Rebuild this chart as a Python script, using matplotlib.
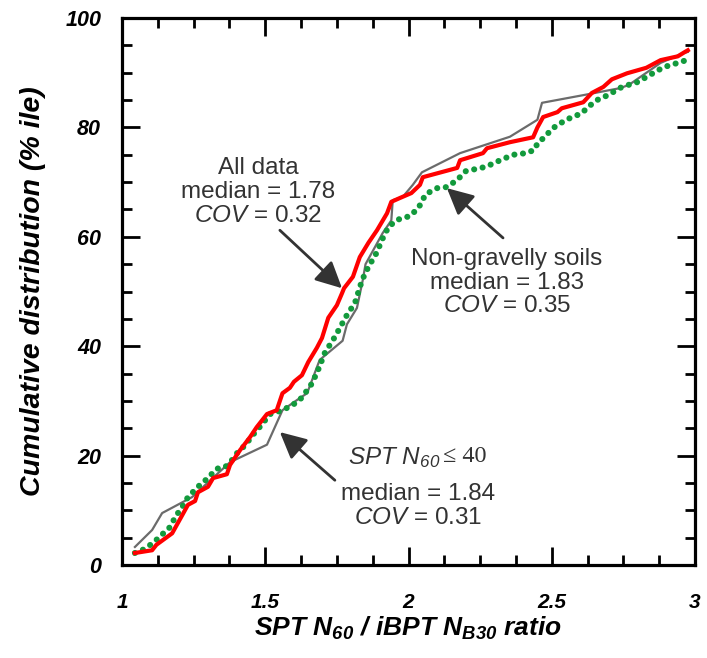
import numpy as np
import matplotlib
matplotlib.use("Agg")
import matplotlib.pyplot as plt
from matplotlib.ticker import MultipleLocator

plt.rcParams['font.family'] = ['Liberation Sans', 'DejaVu Sans']
plt.rcParams['mathtext.fontset'] = 'custom'
plt.rcParams['mathtext.rm'] = 'Liberation Sans:italic:bold'
plt.rcParams['mathtext.it'] = 'Liberation Sans:italic:bold'
plt.rcParams['mathtext.sf'] = 'Liberation Sans:italic'

#---------------- data ----------------
# all data (red)
rx = [1.045, 1.105, 1.12, 1.175, 1.21, 1.23, 1.255, 1.265, 1.30, 1.318, 1.366, 1.377, 1.412, 1.447,
      1.47, 1.506, 1.54, 1.56, 1.586, 1.60, 1.628, 1.65, 1.68, 1.698, 1.72, 1.75, 1.768, 1.775,
      1.806, 1.83, 1.86, 1.89, 1.925, 1.94, 1.97, 2.01, 2.04, 2.05, 2.17, 2.18, 2.26, 2.274,
      2.354, 2.435, 2.45, 2.47, 2.52, 2.535, 2.61, 2.64, 2.68, 2.71, 2.763, 2.83, 2.88, 2.94,
      2.965, 2.975]
ry = [2.2, 2.7, 3.7, 5.8, 9.1, 11, 11.7, 13.3, 14.3, 15.9, 16.6, 18.3, 21, 23.4,
      25.2, 27.6, 28.3, 31.4, 32.4, 33.5, 34.7, 37.1, 39.7, 41.5, 45.2, 47.5, 49.7, 50.6,
      52.7, 56.3, 58.9, 61.2, 64.3, 66.4, 67.1, 68, 69.5, 70.9, 72.6, 74, 75.3, 76.2,
      77.3, 78.2, 80, 81.9, 82.8, 83.5, 84.6, 86.3, 87.4, 88.8, 89.9, 90.9, 92.3, 93,
      93.8, 94.1]

# SPT N60 <= 40 (gray)
gx = [1.045, 1.105, 1.14, 1.244, 1.377, 1.506, 1.56, 1.62, 1.646, 1.69, 1.77, 1.785, 1.82, 1.84,
      1.85, 1.91, 1.94, 1.945, 1.98, 2.015, 2.047, 2.18, 2.354, 2.45, 2.466, 2.62, 2.74, 2.77,
      2.88, 2.96, 2.975]
gy = [3.3, 6.4, 9.5, 12.4, 18.8, 22, 28.3, 30.5, 31.4, 37.5, 41, 44, 47, 52,
      55, 60.7, 63, 66.7, 67.3, 69.5, 71.8, 75.3, 78.3, 81.4, 84.5, 86, 87.2, 87.8,
      91.8, 93.6, 93.8]

# non-gravelly soils (green dots)
ex = [1.045, 1.07, 1.108, 1.13, 1.165, 1.19, 1.21, 1.23, 1.265, 1.30, 1.33, 1.36, 1.384, 1.405,
      1.43, 1.457, 1.48, 1.517, 1.56, 1.597, 1.628, 1.663, 1.684, 1.708, 1.743, 1.785, 1.813,
      1.838, 1.86, 1.89, 1.907, 1.93, 1.96, 2.005, 2.035, 2.06, 2.10, 2.134, 2.17, 2.20, 2.27,
      2.32, 2.365, 2.41, 2.44, 2.45, 2.47, 2.505, 2.55, 2.605, 2.626, 2.658, 2.696, 2.745,
      2.80, 2.843, 2.89, 2.94, 2.97]
ey = [2.2, 2.7, 4, 5.1, 6.8, 9.1, 10.6, 12.4, 14.3, 15.9, 17.6, 17.9, 19.2, 20.7,
      21.9, 23.8, 25.2, 27.6, 28.3, 29.3, 30.6, 33.2, 35.6, 38.8, 41.7, 45.7, 47.9,
      52.1, 54.5, 57.2, 59.4, 61.8, 63.1, 63.8, 65.3, 67.8, 68.9, 69.1, 70.4, 72, 72.8,
      74, 75, 75.3, 75.9, 77.1, 78, 79.9, 81.4, 82.6, 83.7, 85, 85.9, 87.4,
      88.3, 89.6, 91, 91.8, 92.3]

xticks = [1, 1.5, 2, 2.5, 3]
yticks = [0, 20, 40, 60, 80, 100]

#---------------- figure ----------------
fig = plt.figure(figsize=(7.07, 6.58), dpi=100)
ax = fig.add_axes([0.1726, 0.1413, 0.8104, 0.8313])

ax.plot(gx, gy, color='#6b6b6b', lw=1.6, zorder=2)
ax.plot(ex, ey, color='#129a3c', lw=4.4, linestyle=(0, (0.01, 1.4)),
        dash_capstyle='round', zorder=3)
ax.plot(rx, ry, color='#ff0000', lw=3.0, zorder=4)

ax.set_xlim(1, 3)
ax.set_ylim(0, 100)
ax.set_xticks(xticks)
ax.set_yticks(yticks)
ax.set_xticklabels([str(t) for t in xticks])
ax.xaxis.set_minor_locator(MultipleLocator(0.125))
ax.yaxis.set_minor_locator(MultipleLocator(5))
ax.tick_params(which='both', direction='in', top=True, right=True, width=2.0, color='black')
ax.tick_params(which='major', length=13)
ax.tick_params(which='minor', length=7)
ax.tick_params(axis='x', which='major', pad=20, labelsize=15)
ax.tick_params(axis='y', which='major', pad=15, labelsize=15.5)
for lab in ax.get_xticklabels() + ax.get_yticklabels():
    lab.set_fontweight('bold')
    lab.set_fontstyle('italic')
for s in ax.spines.values():
    s.set_linewidth(2.3)

ax.set_xlabel(r'SPT N$_{60}$ / iBPT N$_{B30}$ ratio', fontsize=19, fontweight='bold',
              fontstyle='italic', labelpad=2)
ax.set_ylabel('Cumulative distribution (% ile)', fontsize=20.5, fontweight='bold',
              fontstyle='italic', labelpad=14)

#---------------- annotations ----------------
tc = '#333333'
arr = dict(arrowstyle='-|>,head_length=0.8,head_width=0.4', color=tc, lw=2,
           mutation_scale=20, shrinkA=0, shrinkB=0)

ax.text(1.475, 68.2, 'All data\nmedian = 1.78\n' + r'$\mathsf{COV}$ = 0.32',
        ha='center', va='center', fontsize=17.5, color=tc, linespacing=1.1)
ax.annotate('', xy=(1.768, 50.6), xytext=(1.551, 61.2), arrowprops=arr)

ax.text(2.344, 51.6, 'Non-gravelly soils\nmedian = 1.83\n' + r'$\mathsf{COV}$ = 0.35',
        ha='center', va='center', fontsize=17.5, color=tc, linespacing=1.1)
ax.annotate('', xy=(2.134, 68.9), xytext=(2.33, 59.8), arrowprops=arr)

ax.text(2.11, 19.7, r'SPT N$_{\mathsf{60}}$', ha='right', va='center', fontsize=17.5,
        color=tc, fontstyle='italic')
ax.text(2.12, 19.9, '\u2264 40', ha='left', va='center', fontsize=17.5, color=tc,
        family='Liberation Serif')
ax.text(2.033, 10.8, 'median = 1.84\n' + r'$\mathsf{COV}$ = 0.31',
        ha='center', va='center', fontsize=17.5, color=tc, linespacing=1.1)
ax.annotate('', xy=(1.551, 24.3), xytext=(1.743, 15.5), arrowprops=arr)

fig.savefig('out.png', dpi=100)
